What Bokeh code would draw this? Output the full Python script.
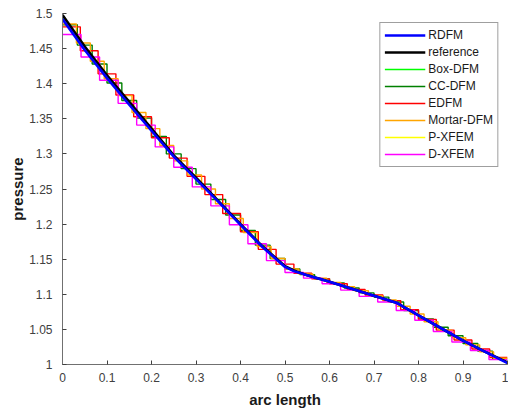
import numpy as np
from bokeh.plotting import figure
from bokeh.models import Legend, LegendItem, FixedTicker
from bokeh.embed import file_html
from bokeh.resources import INLINE

# ---------------- data ----------------
arc = [0, 0.05, 0.1, 0.15, 0.2, 0.25, 0.3, 0.35, 0.4, 0.45, 0.5, 0.52, 0.55,
       0.6, 0.65, 0.7, 0.75, 0.8, 0.85, 0.9, 0.95, 1.0]
reference = [1.498, 1.453, 1.412, 1.374, 1.336, 1.298, 1.266, 1.233, 1.200, 1.168,
             1.140, 1.134, 1.127, 1.118, 1.108, 1.098, 1.088, 1.070, 1.052, 1.034,
             1.018, 1.003]
rdfm = [1.492, 1.448, 1.408, 1.370, 1.333, 1.296, 1.264, 1.232, 1.199, 1.167,
        1.139, 1.133, 1.127, 1.118, 1.108, 1.098, 1.088, 1.070, 1.052, 1.034,
        1.018, 1.002]
box_dfm = [1.496, 1.452, 1.411, 1.373, 1.335, 1.297, 1.265, 1.232, 1.199, 1.167,
           1.139, 1.133, 1.127, 1.118, 1.108, 1.098, 1.088, 1.070, 1.052, 1.034,
           1.018, 1.003]
p_xfem = [1.497, 1.453, 1.412, 1.374, 1.336, 1.298, 1.266, 1.233, 1.200, 1.168,
          1.140, 1.134, 1.127, 1.118, 1.108, 1.098, 1.088, 1.070, 1.052, 1.034,
          1.018, 1.003]

# cell-wise values of the staircase solutions
cc_dfm = [1.484, 1.455, 1.428, 1.401, 1.376, 1.351, 1.325, 1.300, 1.279, 1.257,
          1.235, 1.213, 1.191, 1.170, 1.151, 1.136, 1.128, 1.122, 1.116, 1.109,
          1.102, 1.096, 1.089, 1.077, 1.065, 1.053, 1.041, 1.030, 1.019, 1.008]
edfm = [1.481, 1.447, 1.414, 1.384, 1.353, 1.323, 1.294, 1.268, 1.242, 1.215,
        1.189, 1.164, 1.143, 1.130, 1.122, 1.115, 1.107, 1.099, 1.091, 1.078,
        1.064, 1.049, 1.035, 1.022, 1.010]
mortar_dfm = [1.485, 1.458, 1.432, 1.407, 1.383, 1.359, 1.336, 1.312, 1.290, 1.270,
              1.250, 1.229, 1.208, 1.188, 1.168, 1.151, 1.136, 1.129, 1.123, 1.117,
              1.111, 1.105, 1.098, 1.092, 1.083, 1.072, 1.061, 1.049, 1.038, 1.028,
              1.018, 1.009]
d_xfem = [1.470, 1.438, 1.405, 1.372, 1.341, 1.310, 1.281, 1.253, 1.226, 1.199,
          1.172, 1.148, 1.131, 1.123, 1.115, 1.106, 1.097, 1.089, 1.077, 1.063,
          1.047, 1.032, 1.020, 1.007]

x_ticks = [0, 0.1, 0.2, 0.3, 0.4, 0.5, 0.6, 0.7, 0.8, 0.9, 1.0]
x_tick_labels = ["0", "0.1", "0.2", "0.3", "0.4", "0.5", "0.6", "0.7", "0.8", "0.9", "1"]
y_ticks = [1.0, 1.05, 1.1, 1.15, 1.2, 1.25, 1.3, 1.35, 1.4, 1.45, 1.5]
y_tick_labels = ["1", "1.05", "1.1", "1.15", "1.2", "1.25", "1.3", "1.35", "1.4", "1.45", "1.5"]

FONT = "Liberation Sans"

p = figure(width=508, height=410, x_range=(0, 1), y_range=(1, 1.5),
           output_backend="svg", toolbar_location=None,
           min_border_left=62, min_border_right=1, min_border_top=13, min_border_bottom=46)
p.outline_line_color = None
p.xgrid.visible = False
p.ygrid.visible = False
p.background_fill_color = "white"


def stair(vals):
    n = len(vals)
    edges = np.linspace(0, 1, n + 1)
    return edges, list(vals) + [vals[-1]]


def add_step(vals, color, width=1.4):
    xs, ys = stair(vals)
    return p.step(xs, ys, mode="after", line_color=color, line_width=width)


r_box = p.line(arc, box_dfm, line_color="#00ff00", line_width=1.4)
r_px = p.line(arc, p_xfem, line_color="#ffff00", line_width=1.4)
r_cc = add_step(cc_dfm, "#008000")
r_ed = add_step(edfm, "#ff0000")
r_mo = add_step(mortar_dfm, "#ffa500")
r_dx = add_step(d_xfem, "#ff00ff")
r_ref = p.line(arc, reference, line_color="black", line_width=2.6)
r_rd = p.line(arc, rdfm, line_color="#0000ff", line_width=2.6)

for ax, ticks, labels, title in ((p.xaxis[0], x_ticks, x_tick_labels, "arc length"),
                                  (p.yaxis[0], y_ticks, y_tick_labels, "pressure")):
    ax.ticker = FixedTicker(ticks=ticks)
    ax.major_label_overrides = dict(zip(ticks, labels))
    ax.minor_tick_line_color = None
    ax.major_tick_in = 4
    ax.major_tick_out = 0
    ax.axis_line_color = "#707070"
    ax.major_tick_line_color = "#404040"
    ax.major_label_text_font = FONT
    ax.major_label_text_font_size = "12px"
    ax.major_label_text_color = "#404040"
    ax.axis_label = title
    ax.axis_label_text_font = FONT
    ax.axis_label_text_font_size = "15px"
    ax.axis_label_text_font_style = "bold"
    ax.axis_label_text_color = "#1a1a1a"

p.xaxis[0].major_label_standoff = 8
p.xaxis[0].axis_label_standoff = 6
p.yaxis[0].major_label_standoff = 10
p.yaxis[0].axis_label_standoff = 0

legend = Legend(items=[
    LegendItem(label="RDFM", renderers=[r_rd]),
    LegendItem(label="reference", renderers=[r_ref]),
    LegendItem(label="Box-DFM", renderers=[r_box]),
    LegendItem(label="CC-DFM", renderers=[r_cc]),
    LegendItem(label="EDFM", renderers=[r_ed]),
    LegendItem(label="Mortar-DFM", renderers=[r_mo]),
    LegendItem(label="P-XFEM", renderers=[r_px]),
    LegendItem(label="D-XFEM", renderers=[r_dx]),
], location="top_right")
legend.margin = 9
legend.padding = 4
legend.spacing = 1
legend.glyph_width = 41
legend.glyph_height = 16
legend.label_height = 16
legend.label_standoff = 3
legend.label_text_font = FONT
legend.label_text_font_size = "12px"
legend.label_text_color = "#1a1a1a"
legend.border_line_color = "#404040"
legend.border_line_width = 1
legend.background_fill_alpha = 1
p.add_layout(legend)

open("out.html", "w").write(file_html(p, INLINE))
